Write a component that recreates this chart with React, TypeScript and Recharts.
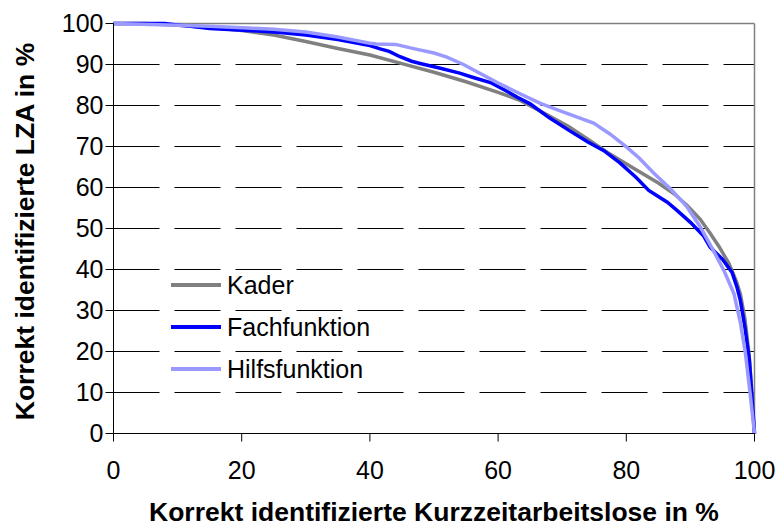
import { LineChart, Line, XAxis, YAxis, CartesianGrid, ReferenceLine, Legend, Label } from 'recharts';

const xTicks = [0, 20, 40, 60, 80, 100];
const yTicks = [0, 10, 20, 30, 40, 50, 60, 70, 80, 90, 100];
const gridValues = [10, 20, 30, 40, 50, 60, 70, 80, 90];
const seriesNames = ['Kader', 'Fachfunktion', 'Hilfsfunktion'];

// [Kurzzeit %, LZA %]
const kader = [
  [0, 100], [5, 100], [10, 99.6], [15, 99.0], [20, 98.3], [25, 97.2], [30, 95.6], [35, 93.9],
  [40, 92.3], [45, 90.2], [50, 88.1], [55, 85.8], [60, 83.2], [63.5, 81.2], [67, 78.3], [71, 74.9],
  [74, 71.8], [77, 68.6], [81, 64.8], [85, 61.1], [87.5, 58.4], [89.5, 55.6], [91.5, 52.3], [93, 49],
  [94.5, 45.5], [96, 41.5], [97.2, 37], [97.8, 34], [98.5, 28], [99.1, 20], [99.6, 10], [100, 0],
];

const fach = [
  [0, 100], [8, 100], [12, 99.3], [15, 98.8], [21, 98.3], [26, 97.8], [30, 97.2], [35, 96.1],
  [40, 94.6], [41.6, 93.8], [43, 93.2], [44.7, 91.9], [46.5, 90.8], [48, 90.2], [51, 89.1], [54, 87.9],
  [56, 86.9], [58.8, 85.6], [61, 83.8], [63, 82], [65, 80.4], [68, 77], [71, 74], [74, 71.1],
  [76.5, 69], [79, 66], [81.5, 62.5], [83.5, 59.3], [84.5, 58.3], [86.4, 56.4], [88, 54.3], [90, 51.5],
  [92, 48.3], [93.1, 45.4], [95, 42.5], [96.5, 39.3], [97.3, 35.5], [97.8, 32.4], [98.5, 26], [99.2, 18],
  [99.6, 9], [100, 0],
];

const hilfs = [
  [0, 100], [10, 99.6], [15, 99.3], [21, 98.9], [25, 98.6], [30, 97.9], [35, 96.7], [40, 95.2],
  [41, 95], [44, 94.9], [47, 93.8], [50, 92.8], [52, 91.8], [54.6, 90], [57, 88], [60, 85.5],
  [63.5, 82.8], [66.6, 80.5], [70, 78.5], [74.9, 75.7], [77.5, 73], [80.1, 69.8], [82, 67.2], [84.3, 63.5],
  [87, 59.5], [89.5, 55.2], [91.5, 50.5], [93.6, 44.6], [95.3, 39.5], [96.8, 34.1], [97.8, 27], [98.6, 19.4],
  [99.3, 10], [100, 0],
];

const toPoints = (rows: number[][]) => rows.map(([x, y]) => ({ x, y }));

const font = 'Liberation Sans, Arial, sans-serif';
const tickStyle = { fontFamily: font, fontSize: 25, fill: '#000' };

function XTitle(props: any) {
  const vb = props.viewBox;
  return (
    <text x={vb.x + vb.width / 2} y={vb.y + vb.height - 6} textAnchor="middle"
      fontFamily={font} fontSize={26.5} fontWeight="bold" fill="#000">
      Korrekt identifizierte Kurzzeitarbeitslose in %
    </text>
  );
}

function YTitle(props: any) {
  const vb = props.viewBox;
  const cx = 34;
  const cy = vb.y + vb.height / 2 + 3;
  return (
    <text x={cx} y={cy} transform={`rotate(-90 ${cx} ${cy})`} textAnchor="middle"
      fontFamily={font} fontSize={26.5} fontWeight="bold" fill="#000">
      Korrekt identifizierte LZA in %
    </text>
  );
}

function LegendBox(props: any) {
  const items = [...props.payload].sort(
    (a: any, b: any) => seriesNames.indexOf(a.value) - seriesNames.indexOf(b.value),
  );
  return (
    <div style={{ fontFamily: font, fontSize: 25, color: '#000' }}>
      {items.map((p: any) => (
        <div key={p.value} style={{ height: 42, display: 'flex', alignItems: 'center' }}>
          <svg width={50} height={4} style={{ marginRight: 6 }}>
            <line x1={0} y1={2} x2={50} y2={2} stroke={p.color} strokeWidth={4} />
          </svg>
          <span>{p.value}</span>
        </div>
      ))}
    </div>
  );
}

export default function App() {
  return (
    <div style={{ position: 'absolute', left: 0, top: 0 }}>
      <LineChart width={777} height={527} margin={{ top: 23.5, right: 22.5, left: 0.5, bottom: 0 }}>
        <CartesianGrid vertical={false} horizontalValues={gridValues} stroke="#000" strokeDasharray="46 15" />
        <XAxis type="number" dataKey="x" domain={[0, 100]} ticks={xTicks} height={93.5} tickSize={8}
          tickMargin={20} stroke="#000" tick={tickStyle} interval={0}>
          <Label content={XTitle} />
        </XAxis>
        <YAxis type="number" dataKey="y" domain={[0, 100]} ticks={yTicks} width={113} tickSize={8}
          stroke="#000" tick={tickStyle} interval={0}>
          <Label content={YTitle} />
        </YAxis>
        <ReferenceLine y={100} stroke="#808080" strokeWidth={1.5} />
        <ReferenceLine x={100} stroke="#808080" strokeWidth={1.5} />
        <Legend layout="vertical" align="center" verticalAlign="middle" content={LegendBox}
          wrapperStyle={{ left: 171, top: 264, width: 'auto' }} />
        <Line data={toPoints(kader)} dataKey="y" name="Kader" stroke="#808080" strokeWidth={3.5}
          dot={false} type="linear" isAnimationActive={false} />
        <Line data={toPoints(fach)} dataKey="y" name="Fachfunktion" stroke="#0000FF" strokeWidth={3.5}
          dot={false} type="linear" isAnimationActive={false} />
        <Line data={toPoints(hilfs)} dataKey="y" name="Hilfsfunktion" stroke="#9999FF" strokeWidth={3.5}
          dot={false} type="linear" isAnimationActive={false} />
      </LineChart>
    </div>
  );
}
